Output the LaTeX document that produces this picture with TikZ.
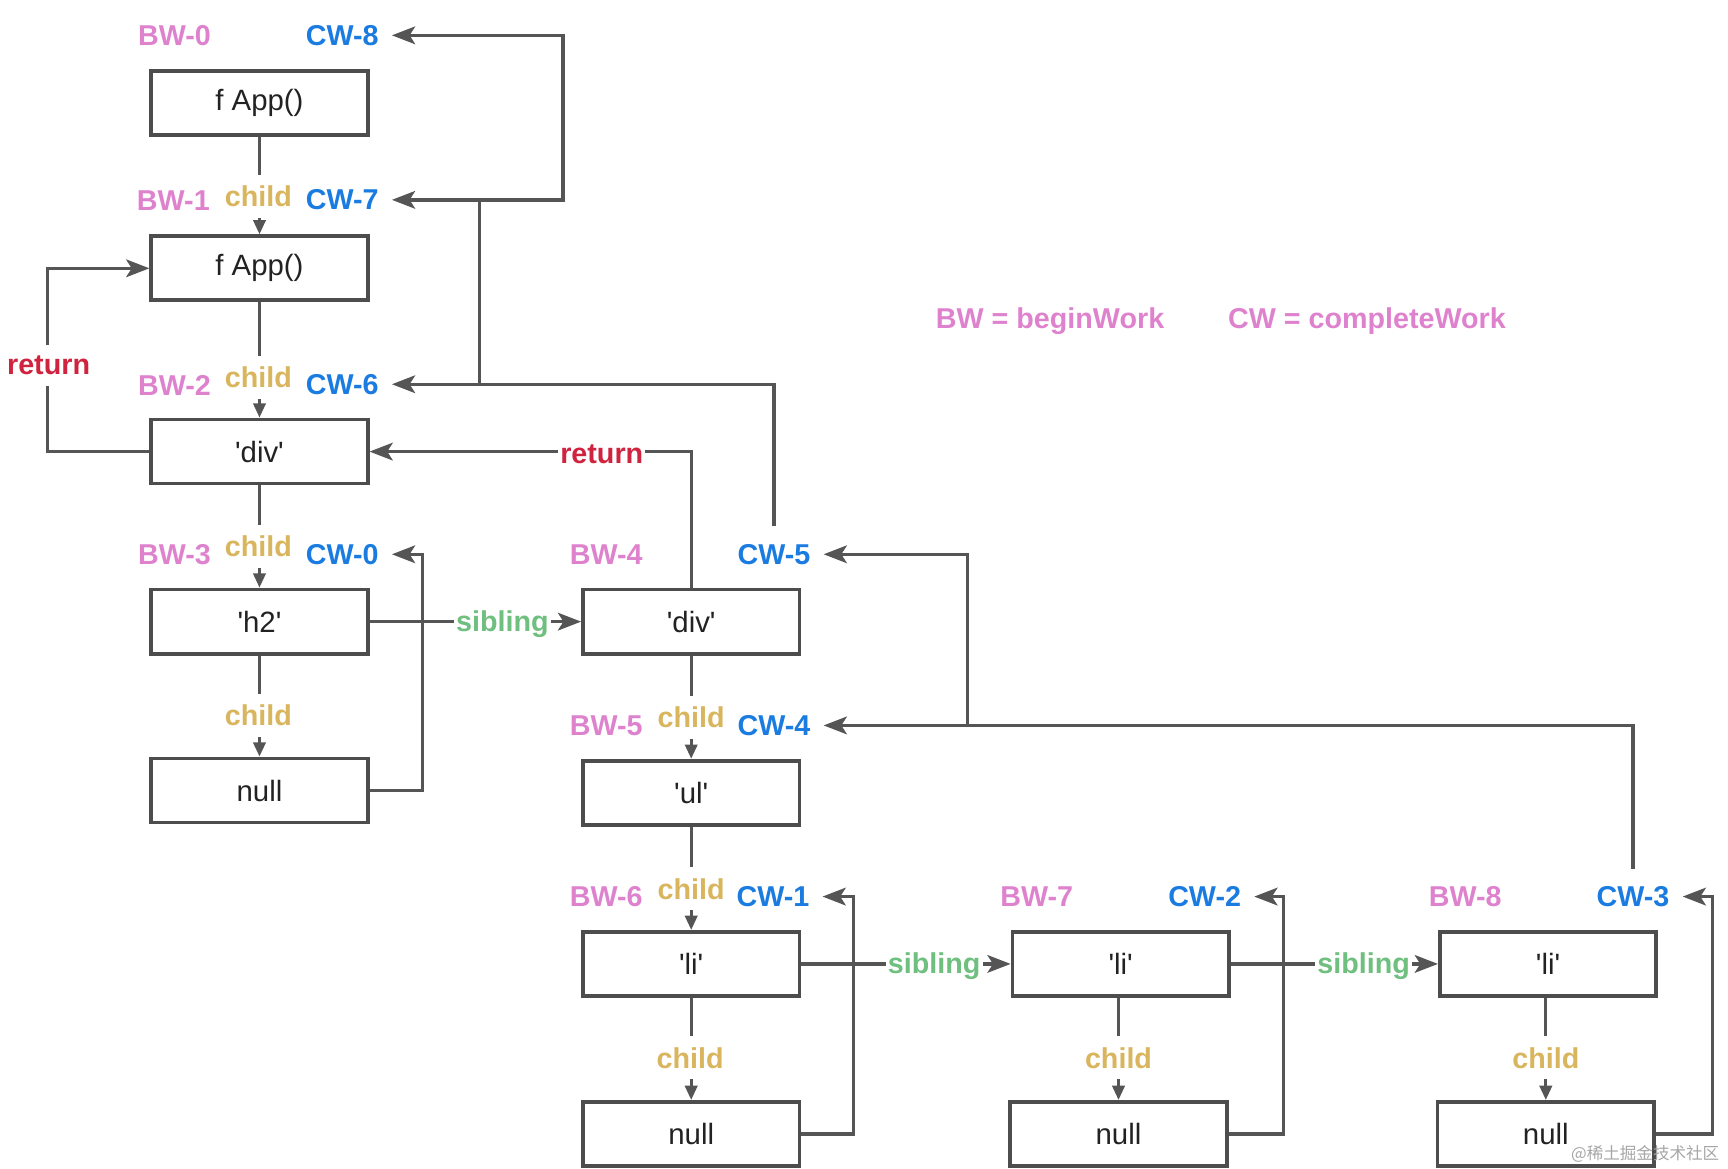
\documentclass[tikz,border=0pt]{standalone}
\usepackage{fontspec}
\setmainfont{Liberation Sans}
\newfontfamily\cjk{Noto Sans CJK SC}
\usetikzlibrary{arrows.meta}
\definecolor{bwc}{HTML}{DE82CE}
\definecolor{cwc}{HTML}{1A7BE0}
\definecolor{childc}{HTML}{D9B55E}
\definecolor{retc}{HTML}{D0233F}
\definecolor{sibc}{HTML}{6FBF7F}
\definecolor{lineg}{HTML}{555555}
\definecolor{boxg}{HTML}{4D4D4D}
\definecolor{txt}{HTML}{222222}
\newcommand{\sq}{\textquotesingle}
\tikzset{
  nodebox/.style={draw=boxg, line width=1.7pt, minimum width=98pt, minimum height=29pt,
    inner sep=0pt, text=txt, font=\fontsize{13.3}{15}\selectfont},
  lbl/.style={font=\bfseries\fontsize{13}{15}\selectfont, inner sep=0pt},
  bwl/.style={lbl, text=bwc},
  cwl/.style={lbl, text=cwc, outer xsep=6pt, outer ysep=8pt},
  elbl/.style={lbl, fill=white, inner xsep=1pt, inner ysep=5pt},
  conn/.style={draw=lineg, line width=1.5pt},
  bigarrow/.style={-{Stealth[length=10.5pt,width=8pt,inset=2.5pt]}},
  childarrow/.style={-{Triangle[length=6.5pt,width=5.5pt]}},
}
\begin{document}
\begin{tikzpicture}[x=0.5pt,y=-0.5pt]
\useasboundingbox (0,0) rectangle (1565,1058.7);
% boxes
\node[nodebox] (a1) at (235,93) {f App()};
\node[nodebox] (a2) at (235,243) {f App()};
\node[nodebox] (d1) at (235,409) {\sq div\sq};
\node[nodebox] (h2) at (235,563) {\sq h2\sq};
\node[nodebox] (n1) at (235,716) {null};
\node[nodebox] (d2) at (626,563) {\sq div\sq};
\node[nodebox] (ul) at (626,718) {\sq ul\sq};
\node[nodebox] (li1) at (626,873) {\sq li\sq};
\node[nodebox] (n2) at (626,1027) {null};
\node[nodebox] (li2) at (1015,873) {\sq li\sq};
\node[nodebox] (n3) at (1013,1027) {null};
\node[nodebox] (li3) at (1402,873) {\sq li\sq};
\node[nodebox] (n4) at (1400,1027) {null};
% BW / CW labels
\node[bwl] (bw0) at (158,32) {BW-0};
\node[cwl] (cw8) at (310,32) {CW-8};
\node[bwl] (bw1) at (157,182) {BW-1};
\node[cwl] (cw7) at (310,181) {CW-7};
\node[bwl] (bw2) at (158,349) {BW-2};
\node[cwl] (cw6) at (310,348) {CW-6};
\node[bwl] (bw3) at (158,502) {BW-3};
\node[cwl] (cw0) at (310,502) {CW-0};
\node[bwl] (bw4) at (549,502) {BW-4};
\node[cwl] (cw5) at (701,502) {CW-5};
\node[bwl] (bw5) at (549,657) {BW-5};
\node[cwl] (cw4) at (701,657) {CW-4};
\node[bwl] (bw6) at (549,812) {BW-6};
\node[cwl] (cw1) at (700,812) {CW-1};
\node[bwl] (bw7) at (939,812) {BW-7};
\node[cwl] (cw2) at (1091,812) {CW-2};
\node[bwl] (bw8) at (1327,812) {BW-8};
\node[cwl] (cw3) at (1479,812) {CW-3};
% legend
\node[bwl] (leg1) at (951,291) {BW = beginWork};
\node[bwl] (leg2) at (1238,291) {CW = completeWork};
% child edges
\draw[conn, childarrow] (a1) -- (a2);
\draw[conn, childarrow] (a2) -- (d1);
\draw[conn, childarrow] (d1) -- (h2);
\draw[conn, childarrow] (h2) -- (n1);
\draw[conn, childarrow] (d2) -- (ul);
\draw[conn, childarrow] (ul) -- (li1);
\draw[conn, childarrow] (li1) -- (n2);
\draw[conn, childarrow] (n3.north |- li2.south) -- (n3.north);
\draw[conn, childarrow] (n4.north |- li3.south) -- (n4.north);
% sibling edges
\draw[conn, bigarrow] (h2) -- (d2);
\draw[conn, bigarrow] (li1) -- (li2);
\draw[conn, bigarrow] (li2) -- (li3);
% return edges
\draw[conn, bigarrow] (d1.west) -- ++(-92,0) |- (a2.west);
\draw[conn, bigarrow] (d2.north) |- (d1.east);
% complete edges
\draw[conn, bigarrow] (n1.east) -- ++(48,0) |- (cw0.east);
\draw[conn, bigarrow] (n2.east) -- ++(47,0) |- (cw1.east);
\draw[conn, bigarrow] (n3.east) -- ++(50,0) |- (cw2.east);
\draw[conn, bigarrow] (n4.east) -- ++(51,0) |- (cw3.east);
\draw[conn, bigarrow] (cw3.north) |- (cw4.east);
\coordinate (j45) at (876,657);
\draw[conn, bigarrow] (j45) |- (cw5.east);
\draw[conn, bigarrow] (cw5.north) |- (cw6.east);
\coordinate (j67) at (434,348);
\draw[conn, bigarrow] (j67) |- (cw7.east);
\coordinate (j78) at (434,181);
\coordinate (k78) at (510,181);
\draw[conn, bigarrow] (j78) -- (k78) |- (cw8.east);
% edge labels
\node[elbl, text=childc] (c1) at (234,178) {child};
\node[elbl, text=childc] (c2) at (234,342) {child};
\node[elbl, text=childc] (c3) at (234,495) {child};
\node[elbl, text=childc] (c4) at (234,648) {child};
\node[elbl, text=childc] (c5) at (626,650) {child};
\node[elbl, text=childc] (c6) at (626,805) {child};
\node[elbl, text=childc] (c7) at (625,958) {child};
\node[elbl, text=childc] (c8) at (1013,958) {child};
\node[elbl, text=childc] (c9) at (1400,958) {child};
\node[elbl, text=sibc] (s1) at (455,565) {sibling};
\node[elbl, text=sibc] (s2) at (846,875) {sibling};
\node[elbl, text=sibc] (s3) at (1235,875) {sibling};
\node[elbl, text=retc] (r1) at (44,331) {return};
\node[elbl, text=retc, inner ysep=2pt] (r2) at (545,411) {return};
% watermark
\node[text=black!35, font=\cjk\fontsize{7.5}{9}\selectfont, inner sep=0pt] (wm) at (1490,1045) {@稀土掘金技术社区};
\end{tikzpicture}
\end{document}
